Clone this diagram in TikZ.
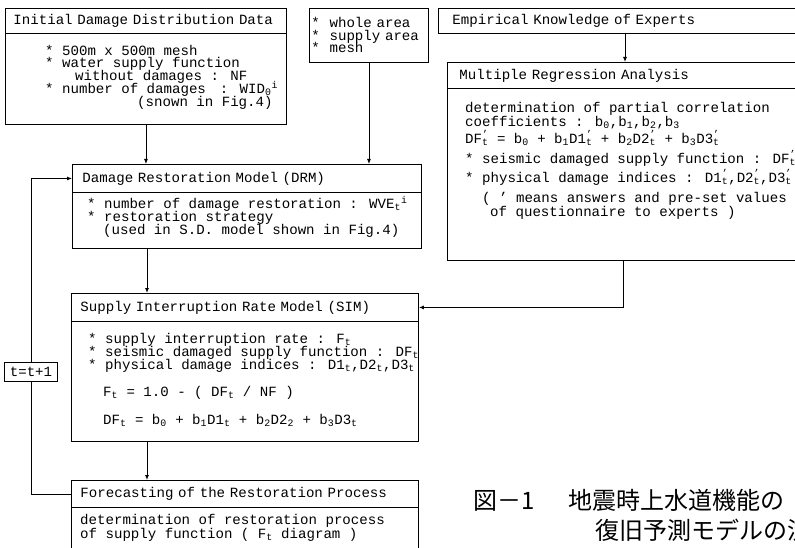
\documentclass[tikz,border=0pt]{standalone}
\usepackage{fontspec}
\setmainfont{Liberation Mono}
\newfontfamily\cjk{Noto Sans CJK JP}
\usetikzlibrary{arrows.meta}
\newcommand\sbs[1]{\textsubscript{#1}}
\newcommand\sps[1]{\textsuperscript{#1}}
\newcommand\pr[1]{\rlap{\textsuperscript{'}}\textsubscript{#1}}
\newcommand\fsz[1]{\fontsize{14.1}{#1}\selectfont\lineskiplimit=-20pt\lineskip=0pt}
\newcommand\tp{\rule{0pt}{12pt}}
\begin{document}
\begin{tikzpicture}[x=1pt,y=-1pt,
  frame/.style={draw, line width=0.9pt, inner ysep=0pt, anchor=north west, align=left, font=\fsz{13.5}},
  body/.style={inner sep=0pt, anchor=north west, align=left, font=\fsz{#1}},
  arr/.style={line width=0.9pt, -{Latex[length=5pt,width=4pt]}},
  captxt/.style={inner sep=0pt, anchor=base west, font=\cjk\fontsize{24}{24}\selectfont}]
\useasboundingbox (0,0) rectangle (795,548);
% box frames
\node[frame, minimum width=281, minimum height=25, inner xsep=8pt, text width=265pt] (b1h) at (5,8) {Initial Damage Distribution Data};
\node[frame, minimum width=281, minimum height=91] (b1b) at (5,33) {};
\node[frame, minimum height=54, inner xsep=2pt, text width=115pt, font=\fsz{12.5}] (b2) at (309,8) {*\hspace{5pt} whole area\\{}*\hspace{5pt} supply area\\{}*\hspace{5pt} mesh};
\node[frame, minimum height=25, inner xsep=14pt, text width=342pt] (eh) at (438,8) {Empirical Knowledge of Experts};
\node[frame, minimum height=26, inner xsep=12pt, text width=336pt] (mh) at (447,62) {Multiple Regression Analysis};
\node[frame, minimum width=360, minimum height=172] (mb) at (447,88) {};
\node[frame, minimum height=28, inner xsep=10pt, text width=329pt] (dh) at (72,164) {Damage Restoration Model (DRM)};
\node[frame, minimum width=349, minimum height=56] (db) at (72,192) {};
\node[frame, minimum height=28, inner xsep=9pt, text width=329pt] (sh) at (71,293) {Supply Interruption Rate Model (SIM)};
\node[frame, minimum width=347, minimum height=120] (sb) at (71,321) {};
\node[frame, minimum height=27, inner xsep=9pt, text width=329pt] (fh) at (71,480) {Forecasting of the Restoration Process};
\node[frame, minimum width=347, minimum height=60] (fb) at (71,507) {};
% body texts
\node[body=12.8] (b1x) at (45,43) {\tp* 500m x 500m mesh\\* water supply function\\\hspace*{30pt}without damages : NF\\* number of damages\hspace{14pt}: WID\sbs{0}\sps{i}\\\hspace*{92pt}(snown in Fig.4)};
\node[body=14] (mx) at (465,100) {\tp determination of partial correlation\\coefficients : b\sbs{0},b\sbs{1},b\sbs{2},b\sbs{3}\\[3pt]DF\pr{t} = b\sbs{0} + b\sbs{1}D1\pr{t} + b\sbs{2}D2\pr{t} + b\sbs{3}D3\pr{t}\\[6pt]* seismic damaged supply function : DF\pr{t}\\[5pt]* physical damage indices : D1\pr{t},D2\pr{t},D3\pr{t}\\[6pt]\hspace*{17pt}( ' means answers and pre-set values\\\hspace*{25pt}of questionnaire to experts )};
\node[body=13] (dx) at (87,196) {\tp* number of damage restoration : WVE\sbs{t}\sps{i}\\* restoration strategy\\\hspace*{16pt}(used in S.D. model shown in Fig.4)};
\node[body=13] (sx) at (88,331) {\tp* supply interruption rate : F\sbs{t}\\* seismic damaged supply function : DF\sbs{t}\\* physical damage indices : D1\sbs{t},D2\sbs{t},D3\sbs{t}\\[14pt]\hspace*{15pt}F\sbs{t} = 1.0 - ( DF\sbs{t} / NF )\\[15pt]\hspace*{15pt}DF\sbs{t} = b\sbs{0} + b\sbs{1}D1\sbs{t} + b\sbs{2}D2\sbs{2} + b\sbs{3}D3\sbs{t}};
\node[body=14] (fx) at (80,512) {\tp determination of restoration process\\of supply function ( F\sbs{t} diagram )};
% connectors
\draw[arr] (b1b.south) -- (b1b.south |- dh.north);
\draw[arr] (b2.south) -- (b2.south |- dh.north);
\draw[arr] ([xshift=187pt]eh.south west) -- ([xshift=187pt]eh.south west |- mh.north);
\draw[arr] ([xshift=75pt]db.south west) -- ([xshift=75pt]db.south west |- sh.north);
\draw[arr] ([xshift=176pt]mb.south west) |- (sh.east);
\draw[arr] ([xshift=76pt]sb.south west) -- ([xshift=76pt]sb.south west |- fh.north);
\node[draw, line width=0.9pt, fill=white, inner sep=0pt, minimum width=53, minimum height=19, font=\fsz{13}] (tt) at (31,372) {t=t+1};
\draw[line width=0.9pt] (fh.west) -| (tt.south);
\draw[arr] (tt.north) |- (dh.west);
% caption
\node[captxt] (c1) at (473,509) {図－1};
\node[captxt] (c2) at (568,509) {地震時上水道機能の};
\node[captxt] (c3) at (595,539) {復旧予測モデルの流};
\end{tikzpicture}
\end{document}
